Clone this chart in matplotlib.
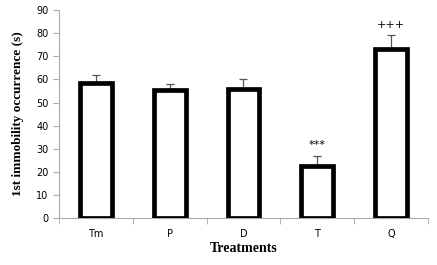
import numpy as np
import matplotlib
matplotlib.use('Agg')
import matplotlib.pyplot as plt

treatments = ['Tm', 'P', 'D', 'T', 'Q']
means = [58.5, 55.5, 56.0, 22.5, 73.0]
errors = [3.5, 2.5, 4.0, 4.5, 6.0]
marks = ['', '', '', '***', '+++']

fig = plt.figure(figsize=(4.37, 2.65), dpi=100)
ax = fig.add_axes([0.135, 0.177, 0.844, 0.785])

x = np.arange(len(treatments))
ax.bar(x, means, width=0.43, color='white', edgecolor='black', linewidth=3.4, zorder=3)
ax.errorbar(x, means, yerr=[np.zeros(len(errors)), errors], fmt='none',
            ecolor='#555555', elinewidth=0.9, capsize=3, capthick=0.9, zorder=2)
for xi, m, e, s in zip(x, means, errors, marks):
    if s:
        ax.text(xi, m + e + 2.5, s, ha='center', va='bottom', fontsize=8,
                family='DejaVu Sans')

ax.set_xlim(-0.5, len(treatments) - 0.5)
ax.set_ylim(0, 90)
ax.set_yticks(range(0, 91, 10))
ax.set_xticks(x)
ax.set_xticklabels(treatments)
ax.set_xticks(np.arange(-0.5, len(treatments)), minor=True)
ax.tick_params(axis='x', which='major', length=0, labelsize=7, pad=8)
ax.tick_params(axis='x', which='minor', length=4, color='#aaaaaa', direction='out')
ax.tick_params(axis='y', length=4, color='#aaaaaa', labelsize=7)
for sp in ['top', 'right']:
    ax.spines[sp].set_visible(False)
for sp in ['left', 'bottom']:
    ax.spines[sp].set_color('#aaaaaa')
    ax.spines[sp].set_linewidth(0.8)

ax.set_xlabel('Treatments', family='Liberation Serif', fontweight='bold', fontsize=10, labelpad=2)
ax.set_ylabel('1st immobility occurrence (s)', family='Liberation Serif', fontweight='bold',
              fontsize=9.5, labelpad=9)

fig.savefig('out.png', dpi=100)
